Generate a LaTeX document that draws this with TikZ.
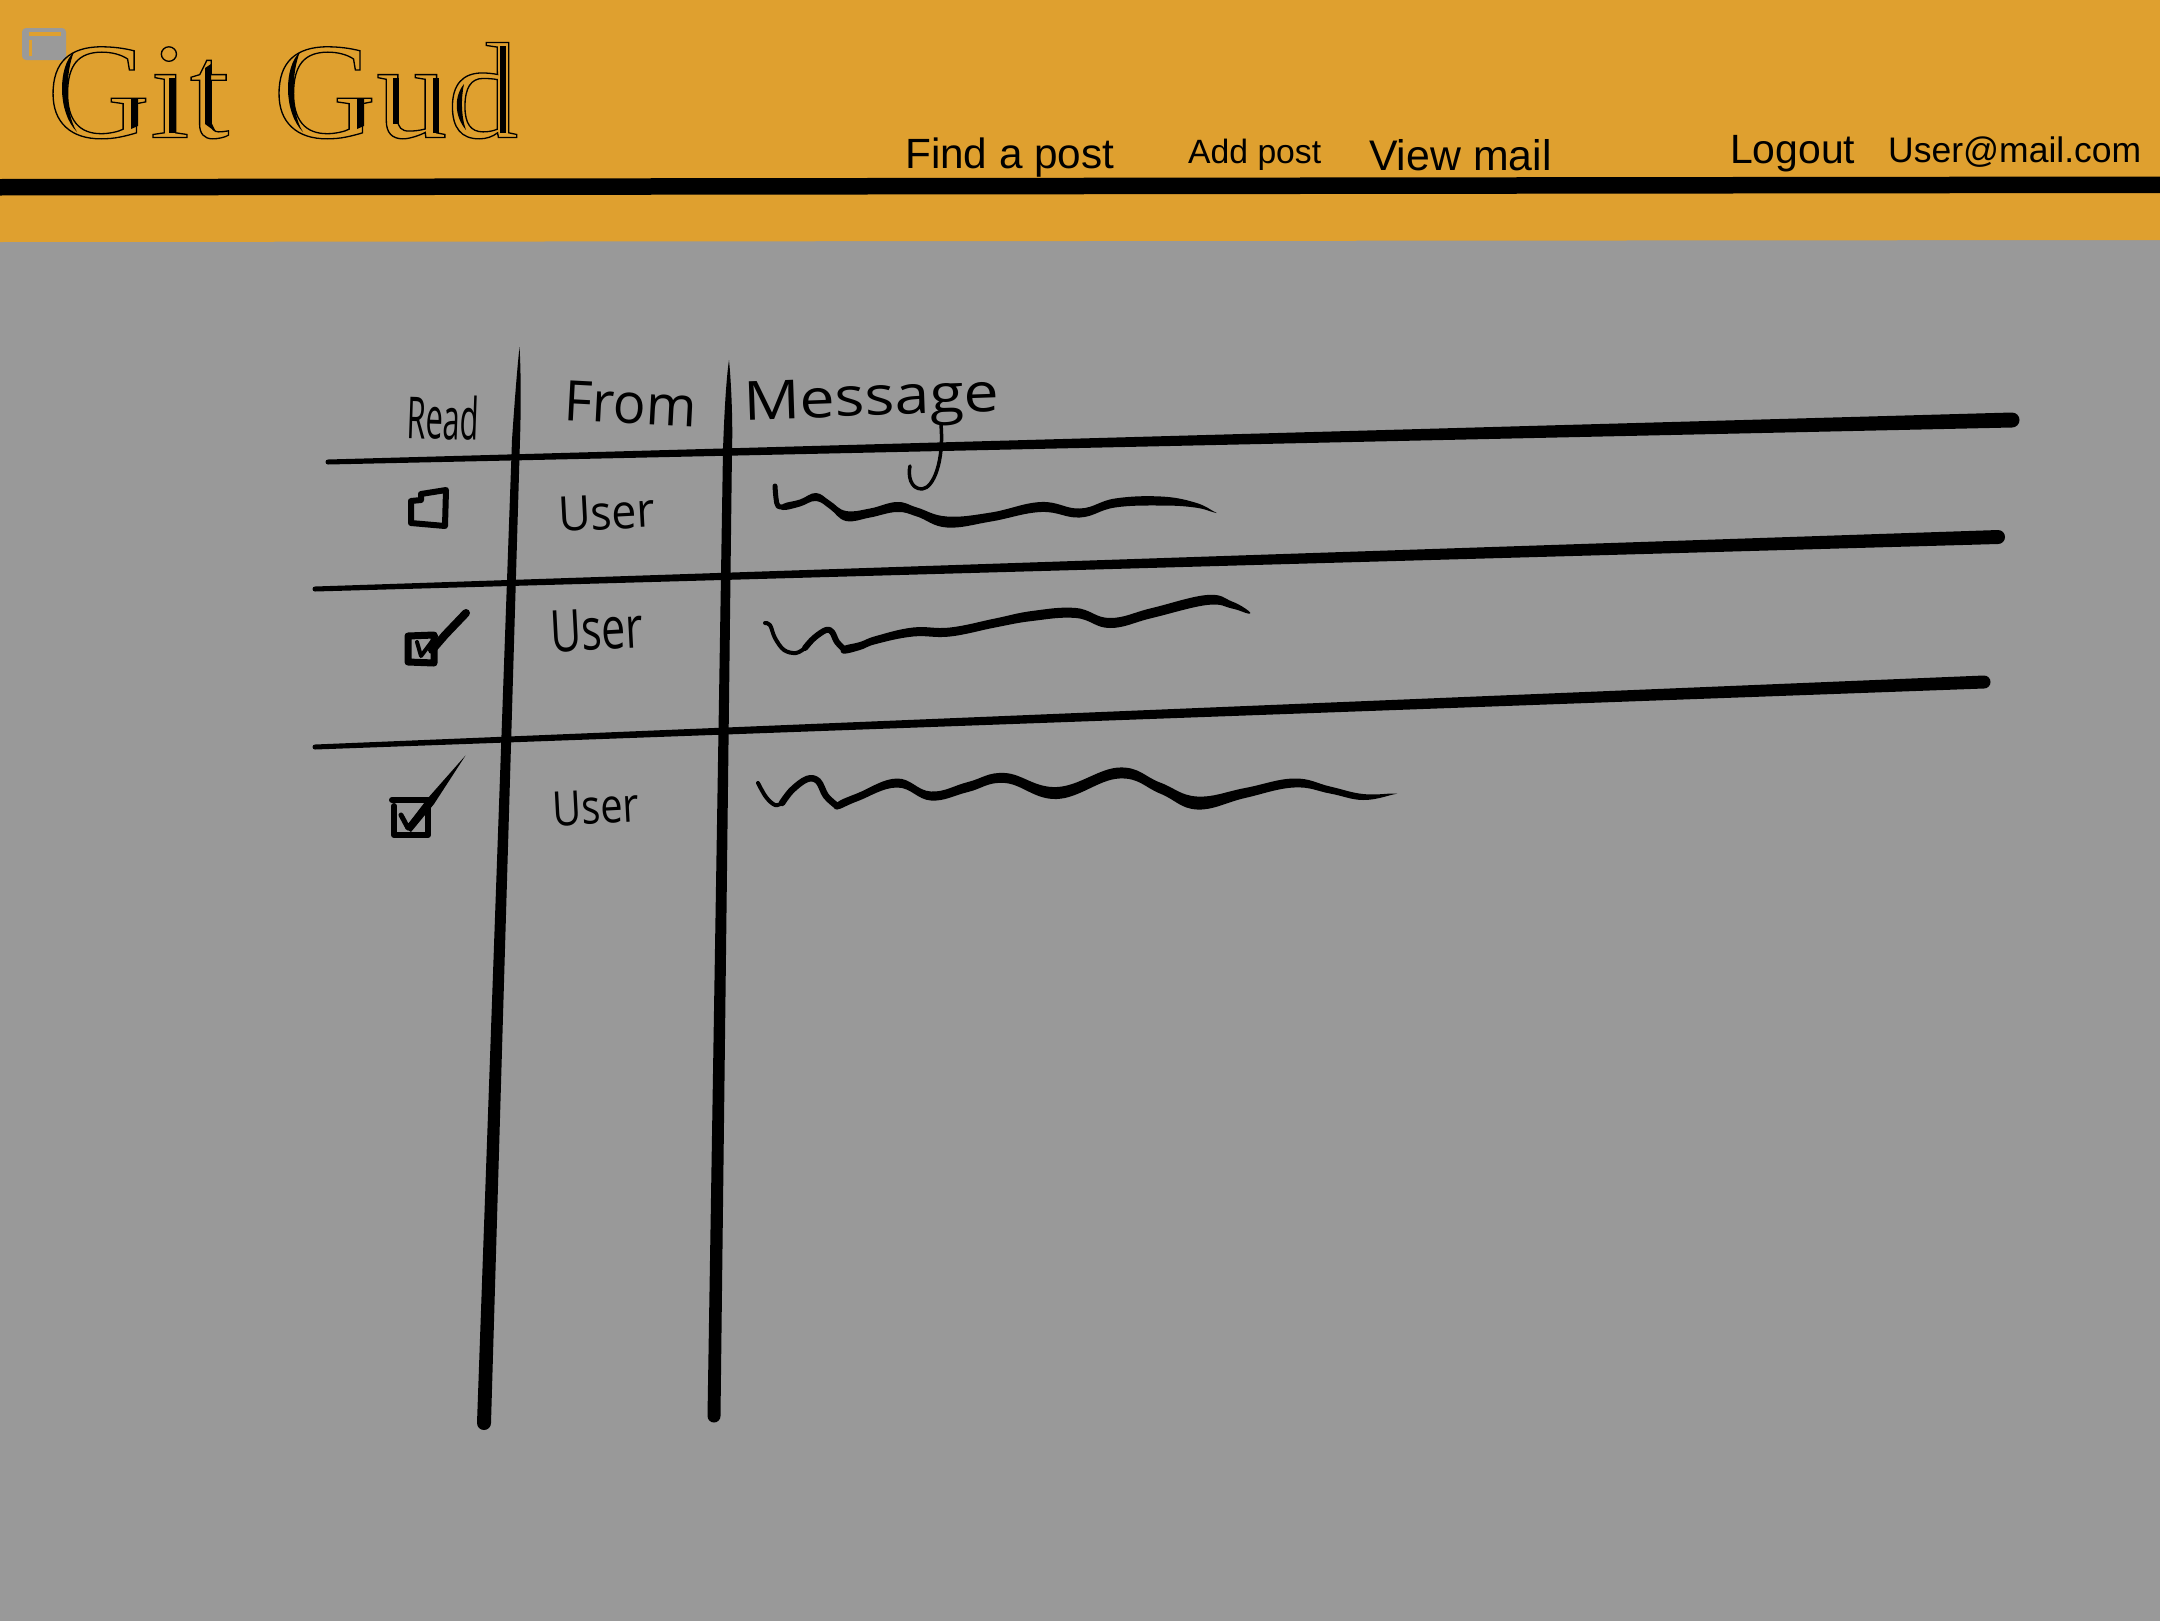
\documentclass[tikz,border=0pt]{standalone}
\usepackage{fontspec}
\setmainfont{Liberation Sans}
\newfontfamily\titlefont{Liberation Serif}
\newfontfamily\handfont{Open Sans}
\definecolor{bandc}{HTML}{DFA02F}
\definecolor{pagec}{HTML}{999999}
\definecolor{iconc}{HTML}{9A9A9A}
\newcommand\outl[1]{\special{pdf:code 1 Tr 1.3 w}#1\special{pdf:code 0 Tr 1 w}}
\newcommand\brush[1]{%
  \gdef\fwdlist{}\gdef\bwdlist{}%
  \foreach \x/\y/\w in {#1}{%
    \pgfmathsetmacro\ya{\y-\w/2}\pgfmathsetmacro\yb{\y+\w/2}%
    \xdef\fwdlist{\fwdlist (\x,\ya)}\xdef\bwdlist{(\x,\yb) \bwdlist}}%
  \edef\brushcmd{\noexpand\fill plot[smooth cycle,tension=.7] coordinates {\fwdlist \bwdlist};}\brushcmd}
\newcommand\hrul[6]{\fill (#1,#2-#3/2) -- (#4,#5-#6/2) arc[start angle=-90,end angle=90,radius=#6/2] -- (#1,#2+#3/2) arc[start angle=90,end angle=270,radius=#3/2] -- cycle;}
% name, x, y, size, stretch, rotation, text
\newcommand\hand[7]{\node[anchor=base west,inner sep=0pt,rotate=#6] (#1) at (#2,#3) {\fontsize{#4}{#4}\handfont\addfontfeature{FakeStretch=#5}#7};}
\tikzset{navtext/.style={anchor=base west,inner sep=0pt,text=black},
  inkline/.style={line width=#1,line cap=round,line join=round}}
\begin{document}
\begin{tikzpicture}[x=1pt,y=-1pt]
\useasboundingbox (0,0) rectangle (2160,1620);
\fill[pagec] (-2,-2) rectangle (2162,1622);
\fill[bandc] (-2,-2) -- (2162,-2) -- (2162,240) -- (-2,242) -- cycle;
\fill[black] (-2,179) -- (2162,176.5) -- (2162,193) -- (-2,195.5) -- cycle;
% icon
\fill[iconc,rounded corners=4pt] (22,28) rectangle (66,60);
\fill[bandc] (28.5,32) rectangle (60.5,36);
\fill[bandc] (28.5,40) rectangle (32,56);
% title: one outlined text and the inner shadow strokes
\node[anchor=base west,inner sep=0pt,xscale=1.04] (title) at (47,137.5) {\titlefont\fontsize{137}{137}\selectfont\outl{Git\hspace{8pt} Gud}};
\foreach \dx in {0,226}{
  \fill[xshift=\dx pt] (74,52) .. controls (58,66) and (57,112) .. (77,132) .. controls (64,112) and (66,70) .. cycle;
  \fill[xshift=\dx pt] (131,98) -- (138,98) -- (138,126) -- (131,129) -- cycle;
}
\fill (169,78) rectangle (175,133);
\fill (205,68) -- (211,64) -- (211,122) -- (216,132) -- (205,124) -- cycle;
\fill (393,78) rectangle (399,124);
\fill (433,78) rectangle (439,133);
\fill (464,84) .. controls (454,96) and (454,116) .. (466,130) .. controls (461,116) and (461,98) .. cycle;
\fill (500,46) rectangle (506,133);
% nav
\node[navtext,font=\fontsize{42.3}{43}\selectfont] (find) at (905,168) {Find a post};
\node[navtext,font=\fontsize{33.7}{34}\selectfont] (add) at (1188,163) {Add post};
\node[navtext,font=\fontsize{42.8}{43}\selectfont] (view) at (1369,170) {View mail};
\node[navtext,font=\fontsize{40.9}{41}\selectfont] (logout) at (1730,163) {Logout};
\node[navtext,font=\fontsize{35.5}{36}\selectfont] (user) at (1888,162) {User@mail.com};
% table rules
\hrul{328}{462}{5}{2012}{420}{15}
\hrul{315}{589}{5}{1998}{537}{14}
\hrul{315}{747}{5}{1984}{682}{13}
\fill (519.5,347) .. controls (521,370) and (521,410) .. (520,440) -- (491,1423) arc[start angle=0,end angle=180,radius=7] -- (512,440) .. controls (514,410) and (517,370) .. cycle;
\fill (729,360) .. controls (731,380) and (733,420) .. (732,450) -- (720.5,1416) arc[start angle=0,end angle=180,radius=6.5] -- (723,450) .. controls (724,420) and (726,380) .. cycle;
% handwritten labels
\hand{hread}{406}{438}{58}{.53}{-2}{Read}
\hand{hfrom}{563}{420}{56}{.97}{-3}{From}
\hand{hmsg}{744}{420}{54}{1.16}{2}{Message}
\hand{huser1}{559}{532}{48}{.93}{3}{User}
\hand{huser2}{551}{652}{58}{.74}{3}{User}
\hand{huser3}{553}{826}{48}{.83}{3}{User}
% tail of the g in Message
\draw[inkline=3.5pt] (941,425) .. controls (944,460) and (934,488) .. (922,489) .. controls (910,489) and (908,475) .. (910,466);
% check boxes
\draw[inkline=6pt] (421,494) -- (446,490) -- (445,526) -- (411,523) -- (411,501) -- (421,500) -- cycle;
\draw[inkline=7pt] (408,636) -- (434,635) -- (434,663) -- (408,662) -- cycle;
\draw[inkline=4pt] (417,642) -- (421,656) -- (436,636);
\draw[inkline=8pt] (432,650) -- (445,635) -- (466,613);
\draw[inkline=6pt] (394,806) -- (394,835) -- (428,835) -- (428,800) -- (392,800);
\draw[inkline=5pt] (401,815) -- (408,828) -- (431,800);
\fill (405,828) -- (428,798) -- (465.5,755.5) -- (434,804) -- (411,832) -- cycle;
% scribbles
\draw[inkline=5pt] plot[smooth,tension=.6] coordinates {(775,486) (776,498) (778,506) (785,507)};
\brush{783/507/6,800/503/7,816/497/8,830/505/8,846/516/10,870/513/9,897/507/10,917/512/9,947/522/11,991/517/9,1041/507/10,1080/513/9,1115/503/9,1161/501/9,1195/505/5,1214/512/.8}
\draw[inkline=4pt] plot[smooth,tension=.6] coordinates {(765,623) (770,625) (775,638) (784,650) (796,653) (805,648)};
\draw[inkline=6pt] plot[smooth,tension=.6] coordinates {(805,648) (814,638) (826,630) (832,632) (837,642) (845,650)};
\brush{843/650/7,860/646/8,876/640/8,913/632/9,950/632/9,995/623/9,1032/616/10,1076/613/10,1110/623/10,1152/613/10,1207/600/10,1232/605/7,1248/612/3}
\draw[inkline=4pt] plot[smooth,tension=.6] coordinates {(758,783) (766,797) (775,805) (782,803)};
\draw[inkline=6.5pt] plot[smooth,tension=.6] coordinates {(782,803) (792,790) (807,779) (818,781) (826,796) (837,806)};
\brush{837/806/7,858/797/8,897/783/9,931/796/9,968/787/10,1005/778/10,1057/793/12,1119/773/11,1160/788/11,1197/803/13,1245/793/10,1294/783/9,1330/790/7,1363/797/6,1393/794/1}
\end{tikzpicture}
\end{document}
